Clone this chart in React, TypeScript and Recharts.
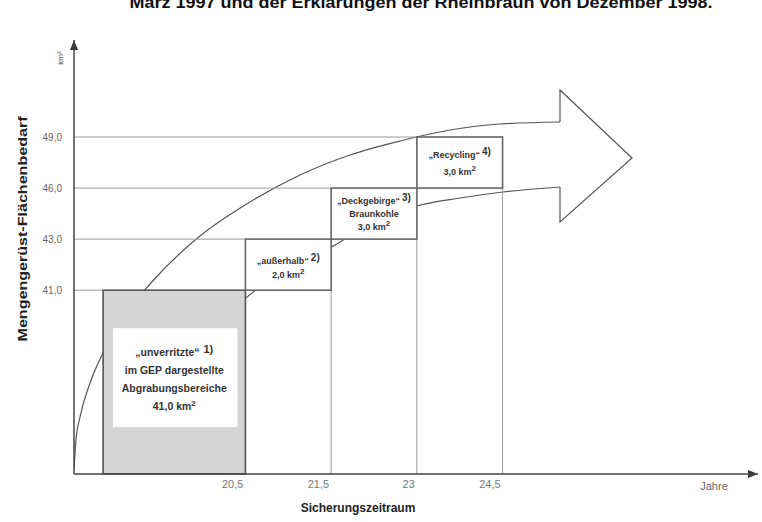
import React from "react";
import {
  ComposedChart,
  XAxis,
  YAxis,
  Line,
  ReferenceArea,
  ReferenceLine,
  ReferenceDot,
  Customized,
} from "recharts";

// ---------- data ----------
const title = "März 1997 und der Erklärungen der Rheinbraun von Dezember 1998.";
const yAxisTitle = "Mengengerüst-Flächenbedarf";
const xAxisTitle = "Sicherungszeitraum";
const yUnit = "km²";
const xUnit = "Jahre";

// end of each period (years) – x tick labels
const yearLabels = ["20,5", "21,5", "23", "24,5"];
// cumulative area demand (km²) – y tick labels
const levels = [41.0, 43.0, 46.0, 49.0];
// area of each block (km²)
const areas = [41.0, 2.0, 3.0, 3.0];
const boxNames = ["„unverritzte“", "„außerhalb“", "„Deckgebirge“", "„Recycling“"];
const boxNotes = ["1)", "2)", "3)", "4)"];
const boxExtra: string[][] = [
  ["im GEP dargestellte", "Abgrabungsbereiche"],
  [],
  ["Braunkohle"],
  [],
];

// decorative big arrow outline in the schematic axis units
const upperCurve = [
  { x: 0.0, y: 0.08 },
  { x: 0.023, y: 0.666 },
  { x: 0.07, y: 1.116 },
  { x: 0.187, y: 1.782 },
  { x: 0.338, y: 2.37 },
  { x: 0.595, y: 3.114 },
  { x: 0.887, y: 3.721 },
  { x: 1.47, y: 4.661 },
  { x: 1.995, y: 5.268 },
  { x: 2.637, y: 5.856 },
  { x: 3.22, y: 6.248 },
  { x: 3.804, y: 6.522 },
  { x: 4.387, y: 6.737 },
  { x: 4.97, y: 6.855 },
  { x: 5.67, y: 6.894 },
];
const lowerCurve = [
  { x: 1.937, y: 3.349 },
  { x: 2.135, y: 3.623 },
  { x: 2.637, y: 4.152 },
  { x: 3.045, y: 4.485 },
  { x: 3.162, y: 4.602 },
  { x: 3.57, y: 4.975 },
  { x: 4.002, y: 5.249 },
  { x: 4.503, y: 5.405 },
  { x: 5.005, y: 5.523 },
  { x: 5.67, y: 5.621 },
];
const arrowHead = [
  { x: 5.67, y: 6.894 },
  { x: 5.67, y: 7.521 },
  { x: 6.51, y: 6.189 },
  { x: 5.67, y: 4.935 },
  { x: 5.67, y: 5.621 },
];

// ---------- schematic axis layout ----------
const X_MAX = 7.98;
const Y_MAX = 8.5;
const X_FIRST = 2; // position of first period end on the schematic x axis
const X_START = 0.34; // left edge of first block
const Y0 = 3.6; // position of first level on the schematic y axis
const levelPos = levels.map((_, i) => Y0 + i);
const yearPos = yearLabels.map((_, i) => X_FIRST + i);

const FONT = "'Liberation Sans', Arial, Helvetica, sans-serif";

const fmt = (v: number) => v.toFixed(1).replace(".", ",");

const BoxShape = (props: any) => {
  const { x, y, width, height, i } = props;
  const cx = x + width / 2;
  const lines: { text: string; note?: string; km?: boolean }[] = [
    { text: boxNames[i], note: boxNotes[i] },
    ...boxExtra[i].map((t) => ({ text: t })),
    { text: fmt(areas[i]) + " km", km: true },
  ];
  if (i === 0) {
    return (
      <g>
        <rect x={x} y={y} width={width} height={height} fill="#d5d5d5" stroke="#555" strokeWidth={1.6} />
        <rect x={x + 10} y={y + 38} width={width - 18} height={height - 85} fill="#fff" />
        {lines.map((l, k) => (
          <text
            key={k}
            x={cx}
            y={y + 66 + k * 18}
            textAnchor="middle"
            fontFamily={FONT}
            fontSize={10.5}
            fontWeight="bold"
            fill="#333"
          >
            {l.text}
            {l.note && (
              <tspan dx={4} dy={-3} fontSize={11}>
                {l.note}
              </tspan>
            )}
            {l.km && (
              <tspan dy={-4} fontSize={8}>
                2
              </tspan>
            )}
          </text>
        ))}
      </g>
    );
  }
  const lh = [0, 14, 13, 17][i];
  const cy = y + height / 2 + (i === 1 ? 3 : 0);
  const n = lines.length;
  return (
    <g>
      <rect x={x} y={y} width={width} height={height} fill="#fff" stroke="#666" strokeWidth={1.6} />
      {lines.map((l, k) => (
        <text
          key={k}
          x={cx}
          y={cy + (k - (n - 1) / 2) * lh + 3.5}
          textAnchor="middle"
          fontFamily={FONT}
          fontSize={9}
          fontWeight="bold"
          fill="#333"
        >
          {l.text}
          {l.note && (
            <tspan dx={2} dy={-3} fontSize={10}>
              {l.note}
            </tspan>
          )}
          {l.km && (
            <tspan dy={-4} fontSize={8}>
              2
            </tspan>
          )}
        </text>
      ))}
    </g>
  );
};

const XTick = (props: any) => {
  const { x, y, payload } = props;
  const idx = Math.round(payload.value - X_FIRST);
  return (
    <text x={x - 2} y={y + 12} textAnchor="end" fontFamily={FONT} fontSize={11} fill="#777">
      {yearLabels[idx]}
    </text>
  );
};

const TextLayer = () => (
  <g fontFamily={FONT}>
    <text x={421} y={8} textAnchor="middle" fontSize={16} fontWeight="bold" fill="#111" textLength={583} lengthAdjust="spacingAndGlyphs">
      {title}
    </text>
    <text
      x={22}
      y={229}
      transform="rotate(-90 22 229)"
      textAnchor="middle"
      dominantBaseline="central"
      fontSize={13}
      fontWeight="bold"
      fill="#222"
      textLength={225}
      lengthAdjust="spacingAndGlyphs"
    >
      {yAxisTitle}
    </text>
    <text x={60} y={58} transform="rotate(-90 60 58)" textAnchor="middle" dominantBaseline="central" fontSize={8} fill="#555">
      {yUnit}
    </text>
    <text x={714} y={490} textAnchor="middle" fontSize={11} fill="#666">
      {xUnit}
    </text>
    <text x={358} y={512} textAnchor="middle" fontSize={12} fontWeight="bold" fill="#222">
      {xAxisTitle}
    </text>
  </g>
);

export default function App() {
  return (
    <div style={{ position: "absolute", left: 0, top: 0, width: 762, height: 522, background: "#fff" }}>
      <ComposedChart width={762} height={522} margin={{ top: 40, right: 4, bottom: 18, left: 14 }}>
        <XAxis
          type="number"
          dataKey="x"
          domain={[0, X_MAX]}
          allowDataOverflow
          ticks={yearPos}
          interval={0}
          tickLine={false}
          tickSize={0}
          tick={<XTick />}
          axisLine={{ stroke: "#444", strokeWidth: 1.5 }}
          height={30}
        />
        <YAxis
          type="number"
          domain={[0, Y_MAX]}
          allowDataOverflow
          ticks={levelPos}
          interval={0}
          tickLine={false}
          tickMargin={6}
          width={60}
          tickFormatter={(v: number) => levelLabels(v)}
          tick={{ fontSize: 10, fill: "#666", fontFamily: FONT }}
          axisLine={{ stroke: "#444", strokeWidth: 1.5 }}
        />
        {levels.map((_, i) => (
          <ReferenceLine
            key={"h" + i}
            segment={[
              { x: 0, y: Y0 + i },
              { x: i === 0 ? X_START : X_FIRST + i - 1, y: Y0 + i },
            ]}
            stroke="#9a9a9a"
            strokeWidth={1}
            ifOverflow="visible"
          />
        ))}
        {yearPos.slice(1).map((xp, i) => (
          <ReferenceLine
            key={"v" + i}
            segment={[
              { x: xp, y: 0 },
              { x: xp, y: Y0 + i },
            ]}
            stroke="#9a9a9a"
            strokeWidth={1}
            ifOverflow="visible"
          />
        ))}
        <Line data={upperCurve} dataKey="y" type="monotone" stroke="#555" strokeWidth={1.2} dot={false} activeDot={false} isAnimationActive={false} zIndex={100} />
        <Line data={lowerCurve} dataKey="y" type="monotone" stroke="#555" strokeWidth={1.2} dot={false} activeDot={false} isAnimationActive={false} zIndex={100} />
        <Line data={arrowHead} dataKey="y" type="linear" stroke="#555" strokeWidth={1.2} dot={false} activeDot={false} isAnimationActive={false} zIndex={100} />
        {areas.map((_, i) => (
          <ReferenceArea
            key={"b" + i}
            x1={i === 0 ? X_START : X_FIRST + i - 1}
            x2={X_FIRST + i}
            y1={i === 0 ? 0 : Y0 + i - 1}
            y2={Y0 + i}
            ifOverflow="visible"
            zIndex={450}
            shape={(p: any) => <BoxShape {...p} i={i} />}
          />
        ))}
        <ReferenceDot
          x={X_MAX}
          y={0}
          ifOverflow="visible"
          zIndex={460}
          shape={(p: any) => <path d={`M${p.cx} ${p.cy} l-10 -4 l0 8 z`} fill="#333" />}
        />
        <ReferenceDot
          x={0}
          y={Y_MAX}
          ifOverflow="visible"
          zIndex={460}
          shape={(p: any) => <path d={`M${p.cx} ${p.cy} l-4 10 l8 0 z`} fill="#333" />}
        />
        <Customized component={<TextLayer />} />
      </ComposedChart>
    </div>
  );
}

function levelLabels(v: number) {
  const idx = Math.round(v - Y0);
  return levels[idx] !== undefined ? fmt(levels[idx]) : "";
}
